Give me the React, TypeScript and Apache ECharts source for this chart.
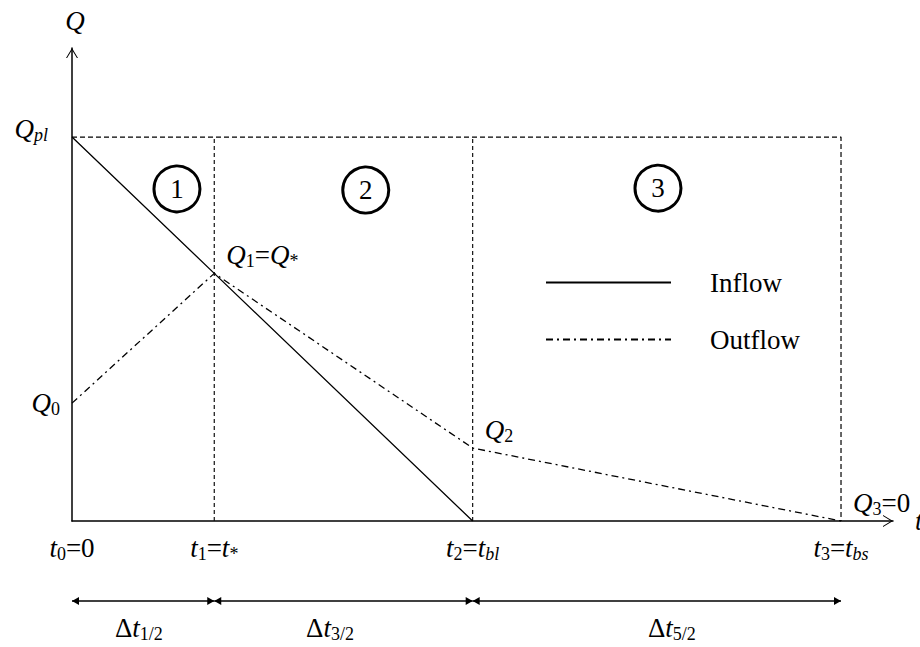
import React, { useEffect, useRef } from 'react';
import * as echarts from 'echarts';

// ---- data (t normalised so t3 = 1, Q normalised so Qpl = 1) ----
const tValues = [0, 0.185, 0.521, 1];
const tTickLabels = [
  '{it|t}{sub|0}{rm|=0}',
  '{it|t}{sub|1}{rm|=}{it|t}{sub|*}',
  '{it|t}{sub|2}{rm|=}{it|t}{subit|bl}',
  '{it|t}{sub|3}{rm|=}{it|t}{subit|bs}',
];
const inflowQ = [1, 0.645, 0]; // at tValues[0..2]
const outflowQ = [0.307, 0.645, 0.19, 0]; // at tValues[0..3]
const outflowPointLabels = ['', '{it|Q}{sub|1}{rm|=}{it|Q}{sub|*}', '{it|Q}{sub|2}', '{it|Q}{sub|3}{rm|=0}'];
const yTickValues = [0.307, 1];
const yTickLabels = ['{it|Q}{sub|0}', '{it|Q}{subit|pl}{pad|}\n{gap|}'];
const peakQ = 1;
const regionT = [0.1365, 0.382, 0.762];
const regionQ = [0.865, 0.862, 0.867];
const regionLabels = ['1', '2', '3'];
const deltaLabelT = [0.087, 0.3355, 0.78];
const deltaLabels = ['{rm|Δ}{it|t}{sub|1/2}', '{rm|Δ}{it|t}{sub|3/2}', '{rm|Δ}{it|t}{sub|5/2}'];
const seriesNames = ['Inflow', 'Outflow'];

const X_MAX = 1.0676;
const Y_MAX = 1.232;

const FONT = "'Liberation Serif', 'Times New Roman', Times, serif";
const S = 27;
const SS = 18;
const rich: any = {
  it: { fontFamily: FONT, fontStyle: 'italic', fontSize: S, lineHeight: 30, color: '#000' },
  rm: { fontFamily: FONT, fontSize: S, lineHeight: 30, color: '#000' },
  sub: { fontFamily: FONT, fontSize: SS, lineHeight: 16, verticalAlign: 'bottom', color: '#000' },
  subit: { fontFamily: FONT, fontStyle: 'italic', fontSize: SS, lineHeight: 16, verticalAlign: 'bottom', color: '#000' },
  pad: { width: 12 },
  gap: { height: 16, lineHeight: 16 },
};

const CHEVRON = 'path://M0,10 L6,0 L12,10 L10.9,10 L6,1.9 L1.1,10 Z';
const TIP_ARROW = 'path://M0,0 M14,0 M7,7 L11,14 L3,14 Z';

function nearestIndex(arr: number[], v: number) {
  let best = 0;
  for (let i = 1; i < arr.length; i++) if (Math.abs(arr[i] - v) < Math.abs(arr[best] - v)) best = i;
  return best;
}

function buildOption(): any {
  const axisLine = {
    show: true,
    onZero: false,
    lineStyle: { color: '#000', width: 1.5 },
    symbol: ['none', CHEVRON],
    symbolSize: [12, 10],
    symbolOffset: [0, -5],
  };
  const rowArrow = 0.639;
  const rowLabel = 0.27;
  return {
    animation: false,
    backgroundColor: '#fff',
    textStyle: { fontFamily: FONT, color: '#000' },
    grid: [
      { left: 72, right: 27, top: 48, bottom: 126, containLabel: false, outerBoundsMode: 'none' },
      { left: 72, right: 27, top: 575, bottom: 0, containLabel: false, outerBoundsMode: 'none' },
    ],
    legend: {
      data: seriesNames,
      orient: 'vertical',
      left: 540,
      top: 264,
      itemWidth: 125,
      itemHeight: 2,
      itemGap: 30,
      itemStyle: { opacity: 0 },
      formatter: (name: string) => `{pad|}{n|${name}}`,
      textStyle: {
        fontFamily: FONT,
        fontSize: S,
        color: '#000',
        rich: {
          pad: { width: 34 },
          n: { fontFamily: FONT, fontSize: S, lineHeight: 30, color: '#000' },
        },
      },
    },
    xAxis: [
      {
        type: 'value',
        gridIndex: 0,
        min: 0,
        max: X_MAX,
        name: 't',
        nameLocation: 'end',
        nameGap: 22,
        nameTextStyle: { fontFamily: FONT, fontStyle: 'italic', fontSize: S, color: '#000', verticalAlign: 'middle', padding: [14, 0, 0, 0] },
        axisLine,
        axisTick: { show: false },
        splitLine: { show: false },
        axisLabel: {
          customValues: tValues,
          margin: 12,
          color: '#000',
          fontFamily: FONT,
          formatter: (v: number) => tTickLabels[nearestIndex(tValues, v)],
          rich,
        },
      },
      { type: 'value', gridIndex: 1, min: 0, max: X_MAX, show: false },
    ],
    yAxis: [
      {
        type: 'value',
        gridIndex: 0,
        min: 0,
        max: Y_MAX,
        name: 'Q',
        nameLocation: 'end',
        nameGap: 14,
        nameTextStyle: { fontFamily: FONT, fontStyle: 'italic', fontSize: S, color: '#000', padding: [0, 0, 0, 6] },
        axisLine,
        axisTick: { show: false },
        splitLine: { show: false },
        axisLabel: {
          customValues: yTickValues,
          margin: 12,
          color: '#000',
          fontFamily: FONT,
          align: 'right',
          formatter: (v: number) => yTickLabels[nearestIndex(yTickValues, v)],
          rich,
        },
      },
      { type: 'value', gridIndex: 1, min: 0, max: 1, show: false },
    ],
    series: [
      {
        name: 'Inflow',
        type: 'line',
        xAxisIndex: 0,
        yAxisIndex: 0,
        symbol: 'none',
        data: inflowQ.map((q, i) => [tValues[i], q]),
        lineStyle: { color: '#000', width: 1.3 },
        itemStyle: { color: '#000' },
        z: 4,
      },
      {
        name: 'Outflow',
        type: 'line',
        xAxisIndex: 0,
        yAxisIndex: 0,
        symbol: 'none',
        data: outflowQ.map((q, i) => [tValues[i], q]),
        lineStyle: { color: '#000', width: 1.3, type: [7, 4, 2, 4] },
        itemStyle: { color: '#000' },
        z: 4,
      },
      {
        name: 'frame',
        type: 'line',
        symbol: 'none',
        silent: true,
        data: [[tValues[0], peakQ], [tValues[3], peakQ], [tValues[3], 0]],
        lineStyle: { color: '#000', width: 1.2, type: [5, 3] },
        z: 2,
      },
      {
        name: 'split1',
        type: 'line',
        symbol: 'none',
        silent: true,
        data: [[tValues[1], 0], [tValues[1], peakQ]],
        lineStyle: { color: '#111', width: 1.2, type: [4, 3] },
        z: 2,
      },
      {
        name: 'split2',
        type: 'line',
        symbol: 'none',
        silent: true,
        data: [[tValues[2], 0], [tValues[2], peakQ]],
        lineStyle: { color: '#111', width: 1.2, type: [4, 3] },
        z: 2,
      },
      {
        name: 'pointLabels',
        type: 'scatter',
        symbolSize: 0,
        silent: true,
        clip: false,
        itemStyle: { opacity: 1, color: '#000' },
        data: outflowQ
          .map((q, i) => ({ value: [tValues[i], q], idx: i }))
          .filter((d) => outflowPointLabels[d.idx] !== '')
          .map((d) => ({
            value: d.value,
            label: {
              show: true,
              position: 'right',
              distance: 12,
              offset: [0, -18],
              color: '#000',
              fontFamily: FONT,
              formatter: outflowPointLabels[d.idx],
              rich,
            },
          })),
        z: 5,
      },
      {
        name: 'regions',
        type: 'scatter',
        symbol: 'circle',
        symbolSize: 46,
        silent: true,
        data: regionT.map((t, i) => [t, regionQ[i]]),
        itemStyle: { color: '#fff', borderColor: '#000', borderWidth: 3, opacity: 1 },
        label: {
          show: true,
          position: 'inside',
          formatter: (p: any) => regionLabels[p.dataIndex],
          fontFamily: FONT,
          fontSize: S,
          color: '#000',
        },
        z: 6,
      },
      {
        name: 'deltaArrows',
        type: 'lines',
        coordinateSystem: 'cartesian2d',
        xAxisIndex: 1,
        yAxisIndex: 1,
        silent: true,
        symbol: [TIP_ARROW, TIP_ARROW],
        symbolSize: 14,
        lineStyle: { color: '#000', width: 1.5, opacity: 1 },
        data: [0, 1, 2].map((i) => ({
          coords: [
            [tValues[i], rowArrow],
            [tValues[i + 1], rowArrow],
          ],
        })),
        z: 3,
      },
      {
        name: 'deltaLabels',
        type: 'scatter',
        xAxisIndex: 1,
        yAxisIndex: 1,
        symbolSize: 0,
        silent: true,
        clip: false,
        itemStyle: { opacity: 1, color: '#000' },
        data: deltaLabelT.map((t) => [t, rowLabel]),
        label: {
          show: true,
          position: 'inside',
          color: '#000',
          fontFamily: FONT,
          formatter: (p: any) => deltaLabels[p.dataIndex],
          rich,
        },
        z: 5,
      },
    ],
  };
}

export default function App() {
  const ref = useRef<HTMLDivElement>(null);
  useEffect(() => {
    document.body.style.margin = '0';
    const chart = echarts.init(ref.current as HTMLDivElement, null, { renderer: 'svg' });
    chart.setOption(buildOption());
    return () => chart.dispose();
  }, []);
  return <div ref={ref} style={{ width: 920, height: 647 }} />;
}
